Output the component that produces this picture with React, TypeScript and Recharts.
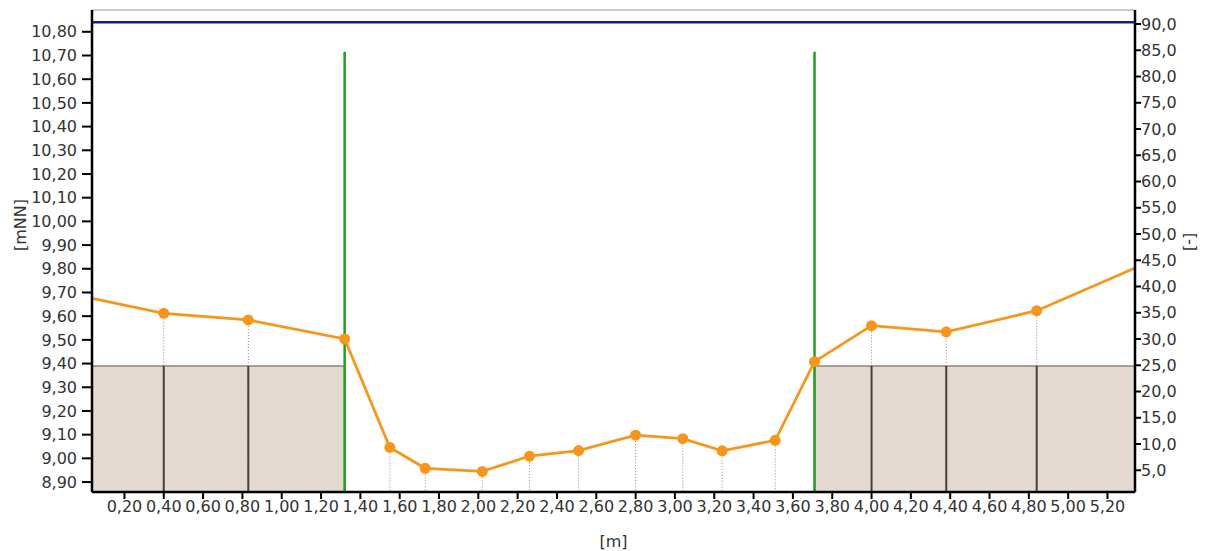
import {
  ComposedChart,
  Line,
  XAxis,
  YAxis,
  ReferenceLine,
  ReferenceArea,
} from "recharts";

// cross-section profile: station [m] vs. level [mNN]
const stations = [0.035, 0.4, 0.83, 1.32, 1.55, 1.73, 2.02, 2.26, 2.51, 2.8, 3.04, 3.24, 3.51, 3.71, 4.0, 4.38, 4.84, 5.34];
const levels = [9.675, 9.612, 9.584, 9.504, 9.046, 8.958, 8.945, 9.009, 9.033, 9.098, 9.083, 9.032, 9.076, 9.408, 9.56, 9.534, 9.623, 9.803];

// banks (brown blocks) and their dividers
const bankTop = 9.39;
const bankDividers = [0.4, 0.83, 4.0, 4.38, 4.84];
const leftBankEnd = 1.32;
const rightBankStart = 3.71;

// green markers, blue water line
const markerStations = [1.32, 3.71];
const markerTop = 10.716;
const waterLevel = 10.84;

const xTicks = [0.2, 0.4, 0.6, 0.8, 1.0, 1.2, 1.4, 1.6, 1.8, 2.0, 2.2, 2.4, 2.6, 2.8, 3.0, 3.2, 3.4, 3.6, 3.8, 4.0, 4.2, 4.4, 4.6, 4.8, 5.0, 5.2];
const leftTicks = [8.9, 9.0, 9.1, 9.2, 9.3, 9.4, 9.5, 9.6, 9.7, 9.8, 9.9, 10.0, 10.1, 10.2, 10.3, 10.4, 10.5, 10.6, 10.7, 10.8];
const rightTicks = [5, 10, 15, 20, 25, 30, 35, 40, 45, 50, 55, 60, 65, 70, 75, 80, 85, 90];

const X_MIN = 0.035;
const X_MAX = 5.34;
const Y_MIN = 8.858;
const Y_MAX = 10.892;

const data = stations.map((s, i) => ({ station: s, level: levels[i] }));

const ORANGE = "#f7961c";
const TEXT = "#333";
const FONT = "'DejaVu Sans', sans-serif";

const fmt = (d: number) => (v: number) => v.toFixed(d).replace(".", ",");

export default function App() {
  const tickStyle = { fill: TEXT, fontSize: 16, fontFamily: FONT };

  const renderDot = (props: any) => {
    const { cx, cy, index } = props;
    if (index === 0 || index === data.length - 1) return <g key={`d-${index}`} />;
    return <circle key={`d-${index}`} cx={cx} cy={cy} r={5.5} fill={ORANGE} stroke="none" />;
  };

  return (
    <div style={{ position: "absolute", left: 0, top: 0, background: "#fff" }}>
      <ComposedChart width={1205} height={551} data={data} margin={{ top: 10, right: 0, bottom: 0, left: 0 }}>
        <XAxis
          dataKey="station"
          type="number"
          domain={[X_MIN, X_MAX]}
          allowDataOverflow
          ticks={xTicks}
          tickFormatter={fmt(2)}
          interval={0}
          height={59}
          tickSize={7}
          axisLine={{ stroke: "#000", strokeWidth: 2.5 }}
          tickLine={{ stroke: "#000", strokeWidth: 2 }}
          tick={tickStyle}
          label={{ value: "[m]", position: "insideBottom", offset: 4, fill: TEXT, fontSize: 16, fontFamily: FONT }}
        />
        <YAxis
          type="number"
          domain={[Y_MIN, Y_MAX]}
          allowDataOverflow
          ticks={leftTicks}
          tickFormatter={fmt(2)}
          interval={0}
          width={92}
          tickSize={10}
          axisLine={{ stroke: "#000", strokeWidth: 2.5 }}
          tickLine={{ stroke: "#000", strokeWidth: 2 }}
          tick={{ ...tickStyle, dx: -3 }}
          label={{ value: "[mNN]", angle: -90, position: "insideLeft", offset: 20, fill: TEXT, fontSize: 16, fontFamily: FONT }}
        />
        <YAxis
          yAxisId="right"
          orientation="right"
          type="number"
          domain={[0.86, 92.67]}
          allowDataOverflow
          ticks={rightTicks}
          tickFormatter={fmt(1)}
          interval={0}
          width={70}
          tickSize={6}
          axisLine={{ stroke: "#000", strokeWidth: 2.5 }}
          tickLine={{ stroke: "#000", strokeWidth: 2 }}
          tick={{ ...tickStyle, dx: -2 }}
          label={{ value: "[-]", angle: 90, position: "insideRight", offset: 14, fill: TEXT, fontSize: 16, fontFamily: FONT }}
        />

        <ReferenceArea x1={X_MIN} x2={leftBankEnd} y1={Y_MIN} y2={bankTop} fill="#e4d9d0" fillOpacity={1} stroke="#8f827d" strokeWidth={1.5} />
        <ReferenceArea x1={rightBankStart} x2={X_MAX} y1={Y_MIN} y2={bankTop} fill="#e4d9d0" fillOpacity={1} stroke="#8f827d" strokeWidth={1.5} />

        {data.slice(1, -1).map((d) => (
          <ReferenceLine
            key={`drop-${d.station}`}
            segment={[{ x: d.station, y: d.level }, { x: d.station, y: Y_MIN }]}
            stroke="#8a8a8a"
            strokeWidth={1}
            strokeDasharray="1 2"
          />
        ))}
        {bankDividers.map((s) => (
          <ReferenceLine
            key={`div-${s}`}
            segment={[{ x: s, y: bankTop }, { x: s, y: Y_MIN }]}
            stroke="#4a3f3c"
            strokeWidth={2}
          />
        ))}
        {markerStations.map((s) => (
          <ReferenceLine
            key={`mk-${s}`}
            segment={[{ x: s, y: Y_MIN }, { x: s, y: markerTop }]}
            stroke="#1fa01f"
            strokeWidth={2.5}
          />
        ))}
        <ReferenceLine y={waterLevel} stroke="#1a1a9c" strokeWidth={2.5} />
        <ReferenceLine y={Y_MAX} stroke="#9a9a9a" strokeWidth={1} />

        <Line
          type="linear"
          dataKey="level"
          stroke={ORANGE}
          strokeWidth={2.8}
          dot={renderDot}
          activeDot={false}
          isAnimationActive={false}
        />
      </ComposedChart>
    </div>
  );
}
